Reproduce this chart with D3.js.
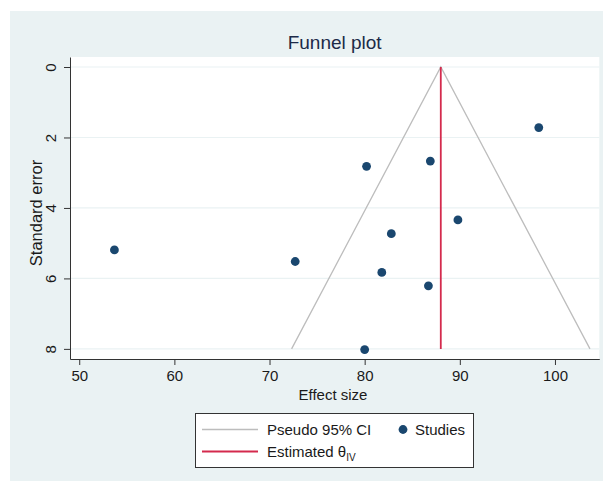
<!DOCTYPE html>
<html>
<head>
<meta charset="utf-8">
<script src="https://cdn.jsdelivr.net/npm/d3@7"></script>
<style>
  body { margin: 0; background: #fff; }
  text { font-family: "Liberation Sans", Arial, sans-serif; fill: #1a1a1a; }
</style>
</head>
<body>
<div id="chart"></div>
<script>
// study effect sizes and standard errors
var effectSize = [98.3, 86.9, 80.2, 89.8, 82.8, 53.7, 72.7, 81.8, 86.7, 80.0];
var stdError   = [1.72, 2.67, 2.82, 4.34, 4.73, 5.19, 5.52, 5.83, 6.21, 8.02];
var thetaIV = 88.0;
var funnelSE = [0, 8];
var xTicks = [50, 60, 70, 80, 90, 100];
var yTicks = [0, 2, 4, 6, 8];

var width = 603, height = 481;
var plot = {left: 70, top: 57, right: 599.3, bottom: 359};

var svg = d3.select("#chart")
  .append("svg")
    .attr("width", width)
    .attr("height", height);

// graph region background
svg.append("rect")
    .attr("x", 10)
    .attr("y", 11)
    .attr("width", width - 10)
    .attr("height", height - 11)
    .attr("fill", "#eaf2f3");

// plot region
svg.append("rect")
    .attr("x", plot.left)
    .attr("y", plot.top)
    .attr("width", plot.right - plot.left)
    .attr("height", plot.bottom - plot.top)
    .attr("fill", "#fff");

var x = d3.scaleLinear()
    .domain([49.03, 104.66])
    .range([plot.left, plot.right]);

var y = d3.scaleLinear()
    .domain([-0.284, 8.287])
    .range([plot.top, plot.bottom]);

// grid lines
svg.append("g")
  .selectAll("line")
  .data(yTicks)
  .enter()
  .append("line")
    .attr("x1", plot.left)
    .attr("x2", plot.right)
    .attr("y1", function(d) { return y(d); })
    .attr("y2", function(d) { return y(d); })
    .attr("stroke", "#eaf2f3")
    .attr("stroke-width", 1.2);

// x axis
var xAxis = svg.append("g")
    .attr("transform", "translate(0," + plot.bottom + ")")
    .call(d3.axisBottom(x).tickValues(xTicks).tickSize(6).tickPadding(5).tickSizeOuter(0));
xAxis.select(".domain").attr("stroke", "#333");
xAxis.selectAll(".tick line").attr("stroke", "#333");
xAxis.selectAll(".tick text")
    .style("font-size", "15px")
    .attr("fill", "#1a1a1a");

// y axis, labels rotated like stata
var yAxis = svg.append("g")
    .attr("transform", "translate(" + plot.left + ",0)")
    .call(d3.axisLeft(y).tickValues(yTicks).tickSize(6).tickSizeOuter(0));
yAxis.select(".domain").attr("stroke", "#333");
yAxis.selectAll(".tick line").attr("stroke", "#333");
yAxis.selectAll(".tick text")
    .attr("x", null)
    .attr("text-anchor", "middle")
    .attr("transform", "translate(-19,0) rotate(-90)")
    .attr("y", 0)
    .attr("dy", "0.35em")
    .style("font-size", "15px")
    .attr("fill", "#1a1a1a");

// pseudo 95% CI funnel
var funnelPts = [
  {x: thetaIV - 1.96 * funnelSE[1], y: funnelSE[1]},
  {x: thetaIV, y: funnelSE[0]},
  {x: thetaIV + 1.96 * funnelSE[1], y: funnelSE[1]}
];
svg.append("path")
    .attr("d", d3.line()
        .x(function(d) { return x(d.x); })
        .y(function(d) { return y(d.y); })(funnelPts))
    .attr("fill", "none")
    .attr("stroke", "#bdbdbd")
    .attr("stroke-width", 1.3);

// estimated theta line
svg.append("line")
    .attr("x1", x(thetaIV))
    .attr("x2", x(thetaIV))
    .attr("y1", y(funnelSE[0]))
    .attr("y2", y(funnelSE[1]))
    .attr("stroke", "#d42a4d")
    .attr("stroke-width", 1.8);

// studies
svg.append("g")
  .selectAll("circle")
  .data(effectSize)
  .enter()
  .append("circle")
    .attr("cx", function(d) { return x(d); })
    .attr("cy", function(d, i) { return y(stdError[i]); })
    .attr("r", 4.4)
    .attr("fill", "#1a476f");

// titles
svg.append("text")
    .attr("x", (plot.left + plot.right) / 2)
    .attr("y", 49)
    .attr("text-anchor", "middle")
    .style("font-size", "19px")
    .style("fill", "#1c2a48")
    .text("Funnel plot");

svg.append("text")
    .attr("x", 333)
    .attr("y", 400)
    .attr("text-anchor", "middle")
    .style("font-size", "15px")
    .text("Effect size");

svg.append("text")
    .attr("transform", "translate(42," + 213 + ") rotate(-90)")
    .attr("text-anchor", "middle")
    .style("font-size", "16.5px")
    .text("Standard error");

// legend
var legend = svg.append("g");
legend.append("rect")
    .attr("x", 195.5)
    .attr("y", 413.5)
    .attr("width", 278)
    .attr("height", 54)
    .attr("fill", "#fff")
    .attr("stroke", "#333")
    .attr("stroke-width", 1);

legend.append("line")
    .attr("x1", 202).attr("x2", 258)
    .attr("y1", 429.5).attr("y2", 429.5)
    .attr("stroke", "#bdbdbd")
    .attr("stroke-width", 1.3);
legend.append("text")
    .attr("x", 267).attr("y", 435)
    .style("font-size", "15px")
    .text("Pseudo 95% CI");

legend.append("circle")
    .attr("cx", 403).attr("cy", 429.5)
    .attr("r", 4.4)
    .attr("fill", "#1a476f");
legend.append("text")
    .attr("x", 415).attr("y", 435)
    .style("font-size", "15px")
    .text("Studies");

legend.append("line")
    .attr("x1", 202).attr("x2", 258)
    .attr("y1", 451.5).attr("y2", 451.5)
    .attr("stroke", "#d42a4d")
    .attr("stroke-width", 1.8);
var est = legend.append("text")
    .attr("x", 267).attr("y", 457)
    .style("font-size", "15px");
est.append("tspan").text("Estimated \u03b8");
est.append("tspan")
    .attr("dy", 4)
    .style("font-size", "10px")
    .text("IV");
</script>
</body>
</html>
